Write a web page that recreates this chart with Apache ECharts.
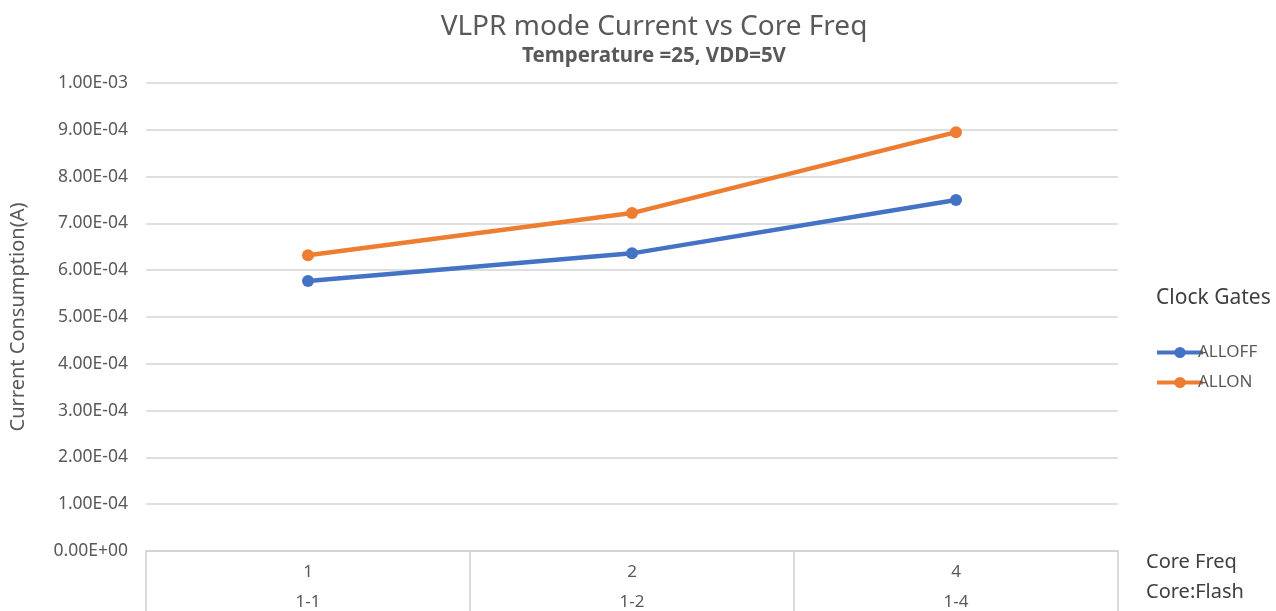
<!DOCTYPE html>
<html>
<head>
<meta charset="utf-8">
<script src="https://cdn.jsdelivr.net/npm/echarts@6/dist/echarts.min.js"></script>
<style>
  html, body { margin: 0; padding: 0; background: #fff; }
  #chart { width: 1276px; height: 611px; }
</style>
</head>
<body>
<div id="chart"></div>
<script>
// core frequency (first label row) and core:flash ratio (second row)
const coreFreq = ['1', '2', '4']
const coreFlash = ['1-1', '1-2', '1-4']
const allOff = [5.77e-4, 6.36e-4, 7.50e-4]
const allOn = [6.32e-4, 7.22e-4, 8.95e-4]

const FONT = '"Noto Sans", "Open Sans", sans-serif'
const GREY = '#595959'

function sci(v) {
  const [m, e] = Number(v).toExponential(2).split('e')
  const n = parseInt(e, 10)
  const sign = n < 0 ? '-' : '+'
  return m + 'E' + sign + String(Math.abs(n)).padStart(2, '0')
}

const chart = echarts.init(document.getElementById('chart'))

chart.setOption({
  color: ['#4472C4', '#ED7D31'],
  textStyle: { fontFamily: FONT },
  title: [
    {
      text: 'VLPR mode Current vs Core Freq',
      subtext: 'Temperature =25, VDD=5V',
      left: 649,
      textAlign: 'center',
      top: 8,
      itemGap: 5,
      textStyle: { color: GREY, fontSize: 28, fontWeight: 'normal', fontFamily: FONT },
      subtextStyle: { color: GREY, fontSize: 20.5, fontWeight: 'bold', fontFamily: FONT }
    },
    {
      text: 'Clock Gates',
      left: 1151,
      top: 283,
      textStyle: { color: '#404040', fontSize: 21, fontWeight: 'normal', fontFamily: FONT }
    },
    {
      text: 'Core Freq\nCore:Flash',
      left: 1141,
      top: 542,
      textStyle: { color: '#404040', fontSize: 20, fontWeight: 'normal', lineHeight: 30, fontFamily: FONT }
    }
  ],
  legend: {
    orient: 'vertical',
    left: 1150,
    top: 339,
    itemWidth: 46,
    itemHeight: 14,
    itemGap: 13,
    lineStyle: { width: 4 },
    textStyle: { color: GREY, fontSize: 17, padding: [0, 0, 0, -10] },
    data: ['ALLOFF', 'ALLON']
  },
  grid: { left: 146, right: 158, top: 83, bottom: 60, outerBoundsMode: 'none' },
  xAxis: {
    type: 'category',
    data: coreFreq,
    axisLine: { lineStyle: { color: '#d0d0d0', width: 1.5 } },
    axisTick: { show: true, length: 62, lineStyle: { color: '#d0d0d0', width: 1.5 } },
    axisLabel: {
      margin: 6,
      color: GREY,
      fontSize: 17,
      lineHeight: 30,
      formatter: (v, i) => v + '\n' + coreFlash[i]
    }
  },
  yAxis: {
    type: 'value',
    min: 0,
    max: 0.001,
    interval: 0.0001,
    name: 'Current Consumption(A)',
    nameLocation: 'middle',
    nameGap: 118,
    nameTextStyle: { color: GREY, fontSize: 20 },
    axisLine: { show: false },
    axisTick: { show: false },
    splitLine: { lineStyle: { color: '#d4d4d4', width: 1.5 } },
    axisLabel: { color: GREY, fontSize: 17.5, margin: 18, formatter: sci }
  },
  series: [
    {
      name: 'ALLOFF',
      type: 'line',
      data: allOff,
      symbol: 'circle',
      symbolSize: 12,
      lineStyle: { width: 4.5 }
    },
    {
      name: 'ALLON',
      type: 'line',
      data: allOn,
      symbol: 'circle',
      symbolSize: 12,
      lineStyle: { width: 4.5 }
    }
  ]
})
</script>
</body>
</html>
